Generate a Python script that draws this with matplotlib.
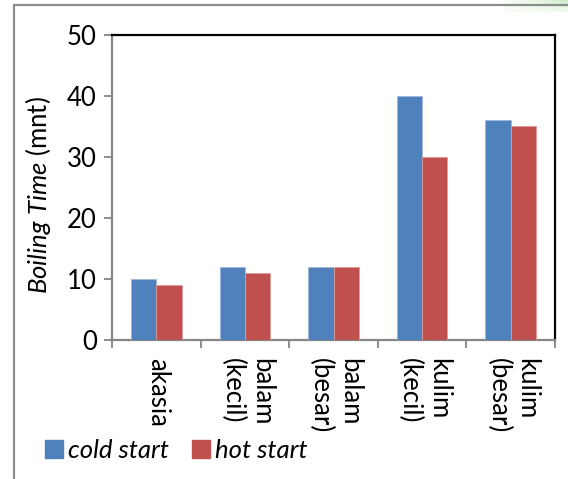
import numpy as np
import matplotlib
matplotlib.use('Agg')
import matplotlib.pyplot as plt
from matplotlib.patches import Patch, Rectangle

# Boiling time per wood type
categories = ['akasia', 'balam\n(kecil)', 'balam\n(besar)', 'kulim\n(kecil)', 'kulim\n(besar)']
cold_start = [10, 12, 12, 40, 36]
hot_start = [9, 11, 12, 30, 35]
yticks = [0, 10, 20, 30, 40, 50]

blue = '#4F81BD'
red = '#C0504D'

plt.rcParams['font.family'] = ['Lato', 'DejaVu Sans']
plt.rcParams['mathtext.fontset'] = 'custom'
plt.rcParams['mathtext.rm'] = 'Lato'
plt.rcParams['mathtext.it'] = 'Lato:italic'
fs = 18.5

W, H = 568, 479
fig = plt.figure(figsize=(W / 100, H / 100), dpi=100)
ax = fig.add_axes([112 / W, 1 - 340 / H, (555 - 112) / W, (340 - 35) / H])

x = np.arange(len(categories))
bw = 1 / 3.5
ax.bar(x - bw / 2, cold_start, bw, color=blue, edgecolor='#9fb7dc', linewidth=0.6, zorder=3)
ax.bar(x + bw / 2, hot_start, bw, color=red, edgecolor='#dd9c9a', linewidth=0.6, zorder=3)

ax.set_xlim(-0.5, len(categories) - 0.5)
ax.set_ylim(0, 50)
ax.set_yticks(yticks)
ax.tick_params(axis='y', direction='out', length=6, width=1.3, color='#868686',
               labelsize=fs, pad=5)

# category boundaries as ticks, labels placed separately
ax.set_xticks(np.arange(len(categories) + 1) - 0.5)
ax.set_xticklabels([])
ax.tick_params(axis='x', direction='out', length=6, width=1.3, color='#868686')
for i, lab in enumerate(categories):
    ax.text(i + 0.02, -3.0, lab, rotation=-90, ha='center', va='top', fontsize=fs,
            multialignment='left', linespacing=1.2)

for s in ['left', 'bottom']:
    ax.spines[s].set_color('#868686')
    ax.spines[s].set_linewidth(1.6)
for s in ['top', 'right']:
    ax.spines[s].set_color('black')
    ax.spines[s].set_linewidth(1.6)

fig.text(38 / W, 1 - 195 / H, r'$\it{Boiling\ Time}$ (mnt)', rotation=90,
         ha='center', va='center', fontsize=fs)

handles = [Patch(color=blue, label='cold start'), Patch(color=red, label='hot start')]
fig.legend(handles=handles, loc='center left', bbox_to_anchor=(22 / W, 1 - 450 / H),
           ncol=2, frameon=False, prop={'style': 'italic', 'size': fs},
           handlelength=0.7, handleheight=0.7, handletextpad=0.2, columnspacing=0.9)

# outer chart border
fig.add_artist(Rectangle((14 / W, -0.1), 1.2, 1 - 5 / H + 0.1, transform=fig.transFigure,
                         fill=False, edgecolor='#8c8c8c', linewidth=1.6))

# faint shadow at the top-right corner
sh = fig.add_axes([505 / W, 1 - 12 / H, (W - 505) / W, 12 / H])
grad = np.linspace(0, 1, 64)[None, :] * np.linspace(1, 0.2, 12)[:, None]
sh.imshow(grad, aspect='auto', cmap='Greens', vmin=0, vmax=3.5, alpha=0.8)
sh.axis('off')

fig.savefig('out.png', dpi=100)
